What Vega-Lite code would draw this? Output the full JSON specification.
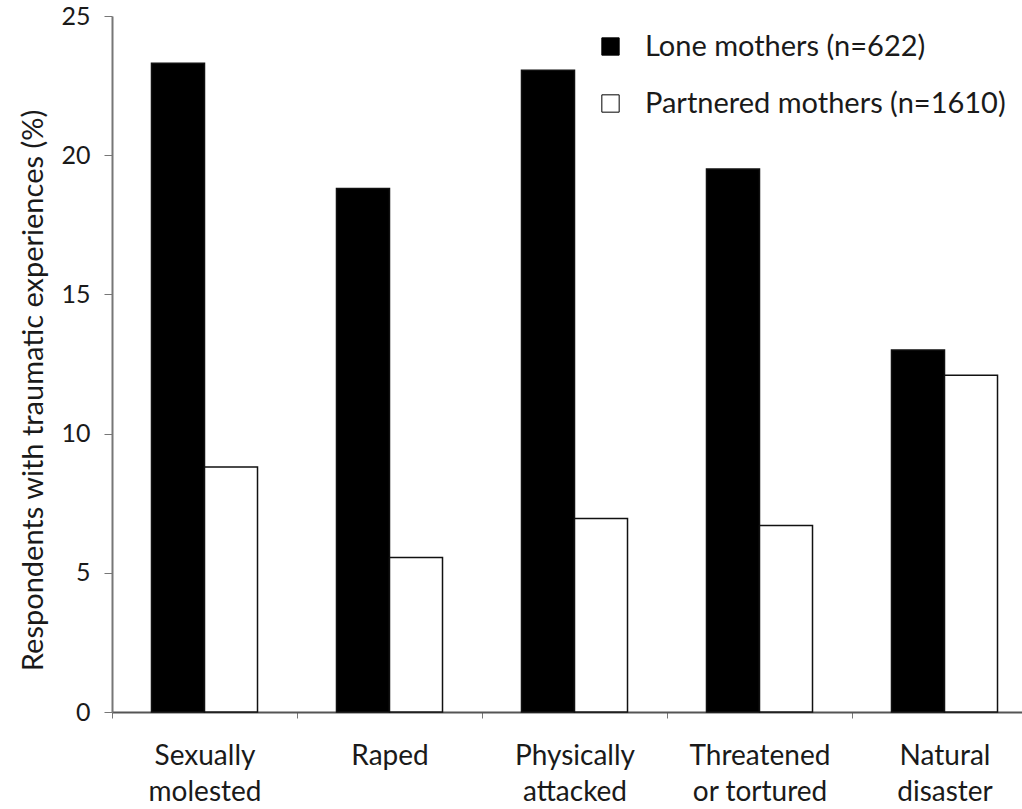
{
  "$schema": "https://vega.github.io/schema/vega-lite/v6.json",
  "width": 925,
  "height": 696,
  "autosize": {"type": "none"},
  "padding": {"left": 112, "top": 16, "right": 0, "bottom": 97},
  "background": "white",
  "data": {
    "values": [
      {"event": "Sexually molested", "group": "Lone mothers (n=622)", "pct": 23.3},
      {"event": "Sexually molested", "group": "Partnered mothers (n=1610)", "pct": 8.8},
      {"event": "Raped", "group": "Lone mothers (n=622)", "pct": 18.8},
      {"event": "Raped", "group": "Partnered mothers (n=1610)", "pct": 5.55},
      {"event": "Physically attacked", "group": "Lone mothers (n=622)", "pct": 23.05},
      {"event": "Physically attacked", "group": "Partnered mothers (n=1610)", "pct": 6.95},
      {"event": "Threatened or tortured", "group": "Lone mothers (n=622)", "pct": 19.5},
      {"event": "Threatened or tortured", "group": "Partnered mothers (n=1610)", "pct": 6.7},
      {"event": "Natural disaster", "group": "Lone mothers (n=622)", "pct": 13.0},
      {"event": "Natural disaster", "group": "Partnered mothers (n=1610)", "pct": 12.1}
    ]
  },
  "config": {
    "view": {"stroke": null},
    "font": "Lato",
    "axis": {"labelFont": "Lato", "titleFont": "Lato", "labelColor": "#1a1a1a", "titleColor": "#1a1a1a", "grid": false},
    "legend": {"labelFont": "Lato"}
  },
  "mark": {"type": "bar", "stroke": "#111", "strokeWidth": 1.5},
  "encoding": {
    "x": {
      "field": "event",
      "type": "nominal",
      "sort": ["Sexually molested", "Raped", "Physically attacked", "Threatened or tortured", "Natural disaster"],
      "scale": {"paddingInner": 0, "paddingOuter": 0},
      "axis": {
        "title": null,
        "labelAngle": 0,
        "labelFontSize": 28,
        "labelPadding": 24,
        "labelLineHeight": 36,
        "labelBaseline": "top",
        "labelExpr": "!isValid(datum.value) ? '' : datum.value == 'Threatened or tortured' ? ['Threatened', 'or tortured'] : split(datum.value, ' ')",
        "tickBand": "extent",
        "tickSize": 6,
        "tickColor": "#777",
        "domainColor": "#555",
        "domainWidth": 2
      }
    },
    "xOffset": {
      "field": "group",
      "type": "nominal",
      "scale": {"paddingOuter": 0.745, "paddingInner": 0}
    },
    "y": {
      "field": "pct",
      "type": "quantitative",
      "scale": {"domain": [0, 25], "nice": false},
      "axis": {
        "title": "Respondents with traumatic experiences (%)",
        "titleFontSize": 29,
        "titleFontWeight": "normal",
        "titlePadding": 12,
        "titleY": 374,
        "values": [0, 5, 10, 15, 20, 25],
        "labelFontSize": 25,
        "labelPadding": 14,
        "tickSize": 8,
        "tickColor": "#777",
        "domainColor": "#777",
        "domainWidth": 2
      }
    },
    "fill": {
      "field": "group",
      "type": "nominal",
      "scale": {"range": ["#000000", "#ffffff"]},
      "legend": {
        "title": null,
        "orient": "none",
        "legendX": 484,
        "legendY": 16,
        "symbolType": "square",
        "symbolSize": 300,
        "symbolStrokeColor": "#000",
        "symbolStrokeWidth": 1,
        "labelFontSize": 29,
        "labelColor": "#1a1a1a",
        "labelOffset": 20,
        "rowPadding": 27,
        "labelLimit": 400
      }
    }
  }
}
